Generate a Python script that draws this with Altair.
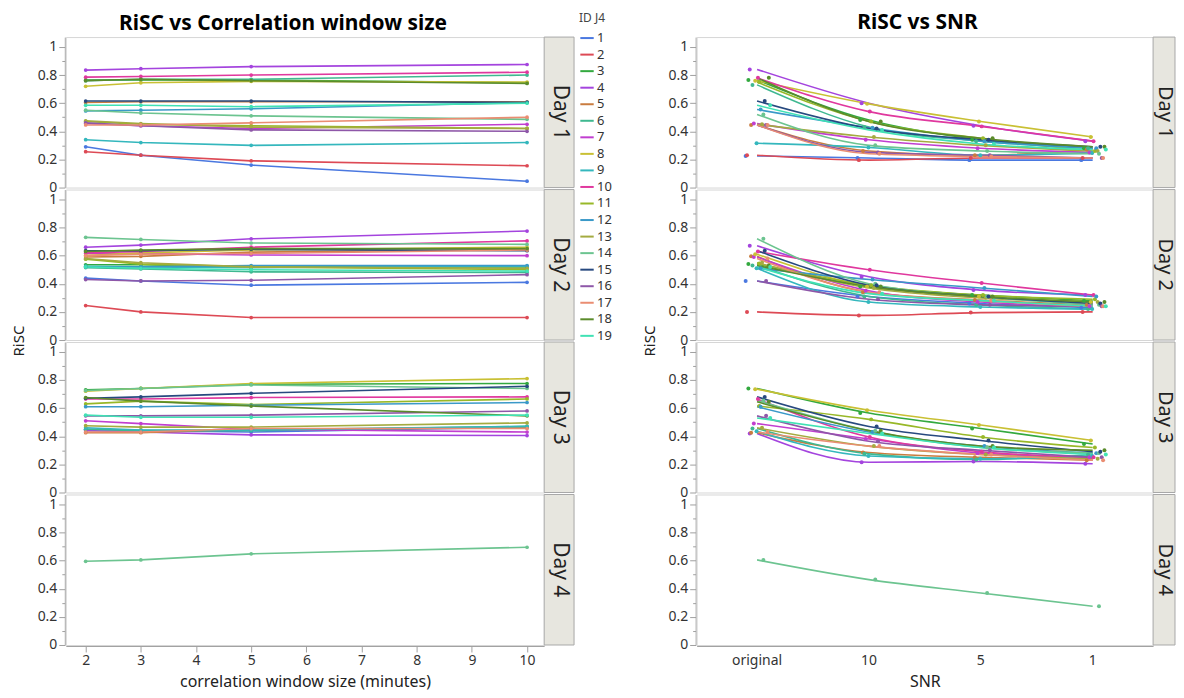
import altair as alt
import pandas as pd

# ---------------- data ----------------
ids = list(range(1, 20))
id_colors = ["#4a78e0", "#dd4a55", "#33a93f", "#a444de", "#c97c3f", "#3fb890",
             "#c13ed0", "#c9c034", "#34b7bd", "#e0389e", "#98b828", "#3a99c8",
             "#a4ab40", "#6cc490", "#27497f", "#8e57a8", "#ea8d72", "#5b8b2b",
             "#40e2b4"]
days = ["Day 1", "Day 2", "Day 3", "Day 4"]
window_sizes = [2, 3, 5, 10]
snr_levels = ["original", "10", "5", "1"]

window_day1 = {
    1: [0.29, 0.23, 0.16, 0.045], 2: [0.255, 0.23, 0.19, 0.155],
    3: [0.765, 0.765, 0.765, 0.745], 4: [0.835, 0.845, 0.86, 0.875],
    5: [0.605, 0.61, 0.61, 0.61], 6: [0.76, 0.77, 0.77, 0.80],
    7: [0.455, 0.44, 0.42, 0.45], 8: [0.72, 0.745, 0.755, 0.75],
    9: [0.34, 0.32, 0.30, 0.32], 10: [0.785, 0.79, 0.80, 0.82],
    11: [0.47, 0.45, 0.44, 0.42], 12: [0.545, 0.55, 0.56, 0.605],
    13: [0.475, 0.455, 0.43, 0.42], 14: [0.55, 0.53, 0.51, 0.485],
    15: [0.615, 0.615, 0.615, 0.605], 16: [0.46, 0.44, 0.41, 0.40],
    17: [0.445, 0.445, 0.46, 0.50], 18: [0.76, 0.77, 0.76, 0.74],
    19: [0.585, 0.585, 0.575, 0.60],
}
window_day2 = {
    1: [0.44, 0.42, 0.39, 0.41], 2: [0.245, 0.20, 0.16, 0.16],
    3: [0.535, 0.535, 0.52, 0.52], 4: [0.66, 0.675, 0.72, 0.775],
    5: [0.59, 0.595, 0.625, 0.645], 6: [0.515, 0.505, 0.485, 0.48],
    7: [0.615, 0.615, 0.605, 0.60], 8: [0.60, 0.62, 0.64, 0.66],
    9: [0.525, 0.52, 0.515, 0.525], 10: [0.62, 0.63, 0.66, 0.705],
    11: [0.575, 0.54, 0.52, 0.50], 12: [0.52, 0.52, 0.53, 0.53],
    13: [0.58, 0.55, 0.52, 0.51], 14: [0.73, 0.715, 0.69, 0.68],
    15: [0.635, 0.635, 0.645, 0.635], 16: [0.43, 0.42, 0.425, 0.465],
    17: [0.60, 0.61, 0.615, 0.64], 18: [0.63, 0.64, 0.65, 0.65],
    19: [0.52, 0.51, 0.50, 0.49],
}
window_day3 = {
    1: [0.45, 0.44, 0.43, 0.465], 3: [0.73, 0.74, 0.77, 0.775],
    4: [0.44, 0.43, 0.41, 0.405], 5: [0.425, 0.425, 0.45, 0.46],
    6: [0.45, 0.44, 0.44, 0.47], 7: [0.51, 0.49, 0.45, 0.43],
    8: [0.72, 0.74, 0.775, 0.81], 9: [0.46, 0.445, 0.445, 0.47],
    10: [0.665, 0.665, 0.675, 0.68], 11: [0.63, 0.65, 0.625, 0.665],
    12: [0.61, 0.61, 0.62, 0.64], 13: [0.475, 0.465, 0.465, 0.495],
    14: [0.725, 0.74, 0.765, 0.74], 15: [0.67, 0.68, 0.705, 0.755],
    16: [0.545, 0.545, 0.55, 0.58], 17: [0.43, 0.43, 0.455, 0.455],
    18: [0.675, 0.65, 0.615, 0.545], 19: [0.55, 0.535, 0.535, 0.55],
}
window_day4 = {
    14: [0.595, 0.605, 0.648, 0.695],
}

snr_day1 = {
    1: [0.225, 0.21, 0.195, 0.195], 2: [0.23, 0.195, 0.21, 0.21],
    3: [0.765, 0.48, 0.34, 0.28], 4: [0.84, 0.60, 0.44, 0.33],
    5: [0.445, 0.26, 0.23, 0.27], 6: [0.73, 0.43, 0.33, 0.28],
    7: [0.455, 0.34, 0.28, 0.25], 8: [0.76, 0.595, 0.47, 0.36],
    9: [0.315, 0.285, 0.23, 0.245], 10: [0.78, 0.54, 0.435, 0.33],
    11: [0.75, 0.47, 0.35, 0.26], 12: [0.555, 0.425, 0.33, 0.28],
    13: [0.45, 0.36, 0.30, 0.26], 14: [0.52, 0.30, 0.26, 0.24],
    15: [0.615, 0.42, 0.34, 0.29], 16: [0.445, 0.25, 0.23, 0.21],
    17: [0.445, 0.24, 0.22, 0.21], 18: [0.78, 0.47, 0.35, 0.29],
    19: [0.585, 0.41, 0.31, 0.27],
}
snr_day2 = {
    1: [0.42, 0.31, 0.26, 0.23], 2: [0.20, 0.175, 0.195, 0.20],
    3: [0.54, 0.38, 0.32, 0.28], 4: [0.67, 0.45, 0.355, 0.32],
    5: [0.595, 0.34, 0.285, 0.25], 6: [0.53, 0.31, 0.25, 0.22],
    7: [0.59, 0.35, 0.27, 0.24], 8: [0.61, 0.38, 0.31, 0.27],
    9: [0.51, 0.27, 0.235, 0.22], 10: [0.63, 0.50, 0.405, 0.32],
    11: [0.545, 0.39, 0.32, 0.29], 12: [0.51, 0.43, 0.37, 0.31],
    13: [0.55, 0.37, 0.30, 0.27], 14: [0.72, 0.40, 0.31, 0.25],
    15: [0.635, 0.39, 0.31, 0.26], 16: [0.42, 0.29, 0.25, 0.24],
    17: [0.58, 0.34, 0.28, 0.24], 18: [0.53, 0.38, 0.31, 0.27],
    19: [0.52, 0.33, 0.28, 0.24],
}
snr_day3 = {
    3: [0.74, 0.565, 0.455, 0.345], 4: [0.42, 0.215, 0.22, 0.205],
    5: [0.425, 0.285, 0.25, 0.23], 6: [0.455, 0.275, 0.235, 0.27],
    7: [0.49, 0.38, 0.28, 0.25], 8: [0.735, 0.585, 0.48, 0.37],
    9: [0.435, 0.26, 0.24, 0.26], 10: [0.665, 0.395, 0.29, 0.25],
    11: [0.615, 0.52, 0.395, 0.32], 12: [0.61, 0.43, 0.33, 0.28],
    13: [0.46, 0.33, 0.27, 0.24], 14: [0.655, 0.44, 0.32, 0.28],
    15: [0.68, 0.47, 0.37, 0.29], 16: [0.545, 0.365, 0.30, 0.25],
    17: [0.43, 0.33, 0.27, 0.23], 18: [0.645, 0.44, 0.33, 0.30],
    19: [0.53, 0.42, 0.32, 0.27],
}
snr_day4 = {
    14: [0.605, 0.465, 0.37, 0.275],
}


def to_frame(tables, xs, xname):
    rows = []
    for day, table in zip(days, tables):
        for i, vals in table.items():
            for x, v in zip(xs, vals):
                rows.append({"day": day, "id": i, xname: x, "risc": v})
    return pd.DataFrame(rows)


df_win = to_frame([window_day1, window_day2, window_day3, window_day4], window_sizes, "window")
df_snr = to_frame([snr_day1, snr_day2, snr_day3, snr_day4], snr_levels, "snr")

# ---------------- styling ----------------
FONT = "Noto Sans"
H = 151
W1 = 480
W2 = 458
S1 = 30
S2 = 22
STRIP_FILL = "#e7e6df"
STRIP_STROKE = "#a8a8a8"
AXIS_GRAY = "#a0a0a0"
LABEL_COLOR = "#333333"

color_scale = alt.Scale(domain=ids, range=id_colors)

major = "round(datum.value*10) % 2 == 0"
y_axis = alt.Axis(
    values=[round(i * 0.1, 1) for i in range(11)],
    labelExpr=f"{major} ? toString(round(datum.value*10)/10) : ''",
    tickSize={"condition": {"test": major, "value": 6}, "value": 3},
    title=None, grid=False, domainColor=AXIS_GRAY, tickColor=AXIS_GRAY,
    labelFontSize=14, labelColor=LABEL_COLOR, labelPadding=2,
)
y_enc = alt.Y("risc:Q", scale=alt.Scale(domain=[0, 1.07], nice=False), axis=y_axis)


def strip_layers(W, S, fs):
    strip = alt.Chart().transform_aggregate(
        n="count()", groupby=["day"]
    ).mark_rect(fill=STRIP_FILL, stroke=STRIP_STROKE, strokeWidth=1).encode(
        x=alt.value(W), x2=alt.value(W + S), y=alt.value(0), y2=alt.value(H)
    )
    label = alt.Chart().transform_aggregate(
        n="count()", groupby=["day"]
    ).mark_text(angle=90, fontSize=fs, color="#222222", align="center",
                baseline="middle", font=FONT).encode(
        x=alt.value(W + S / 2 + 1), y=alt.value(H / 2), text="day:N"
    )
    return strip, label


def row_facet():
    return alt.Row("day:N", sort=days, header=alt.Header(
        labels=False, title="RiSC", titleOrient="left", titleFontSize=15,
        titleFontWeight="normal", titleColor="#222222", titlePadding=0,
        titleFont=FONT))


# ---------------- left: window size ----------------
x_win = alt.X("window:Q", scale=alt.Scale(domain=[1.64, 10.31], nice=False, zero=False),
              axis=alt.Axis(values=list(range(2, 11)), title="correlation window size (minutes)",
                            tickSize=6, grid=False, domainColor=AXIS_GRAY, tickColor=AXIS_GRAY,
                            labelFontSize=14, labelColor=LABEL_COLOR, titleFontSize=16,
                            titleFontWeight="normal", titleColor="#222222", titlePadding=6))
color_left = alt.Color("id:O", scale=color_scale, legend=alt.Legend(
    title="ID J4", symbolType="stroke", symbolStrokeWidth=2, symbolSize=180,
    labelFontSize=13, titleFontSize=12, titleFontWeight="normal", titleColor="#444444",
    labelColor=LABEL_COLOR, rowPadding=1.6, labelOffset=2,
    orient="none", legendX=W1 + S1 + 5, legendY=-24))

line_l = alt.Chart().mark_line(strokeWidth=1.6).encode(x=x_win, y=y_enc, color=color_left)
pts_l = alt.Chart().mark_circle(size=14, opacity=1).encode(x=x_win, y=y_enc, color=color_left)
strip_l, lab_l = strip_layers(W1, S1, 21)

left = alt.layer(line_l, pts_l, strip_l, lab_l, data=df_win).properties(
    width=W1, height=H
).facet(row=row_facet(), spacing=0).properties(
    title=alt.TitleParams("RiSC vs Correlation window size", fontSize=21, fontWeight="bold",
                          anchor="middle", frame="bounds", font=FONT, offset=3, dx=-29, dy=24)
)

# ---------------- right: SNR ----------------
x_snr = alt.X("snr:N", sort=snr_levels,
              scale=alt.Scale(domain=snr_levels, paddingInner=0, paddingOuter=0.04),
              axis=alt.Axis(labelAngle=0, title="SNR", ticks=False, grid=False,
                            domainColor=AXIS_GRAY, labelFontSize=14, labelColor=LABEL_COLOR,
                            titleFontSize=16, titleFontWeight="normal", titleColor="#222222",
                            labelPadding=8, titlePadding=6))
color_right = alt.Color("id:O", scale=color_scale, legend=None)

line_r = alt.Chart().mark_line(strokeWidth=1.6, interpolate="monotone").encode(
    x=x_snr, y=y_enc, color=color_right)
pts_r = alt.Chart().mark_circle(size=16, opacity=1).encode(
    x=x_snr, y=y_enc, color=color_right,
    xOffset=alt.XOffset("id:O", scale=alt.Scale(range=[44, 70])))
strip_r, lab_r = strip_layers(W2, S2, 20)

right = alt.layer(line_r, pts_r, strip_r, lab_r, data=df_snr).properties(
    width=W2, height=H
).facet(row=row_facet(), spacing=0).properties(
    title=alt.TitleParams("RiSC vs SNR", fontSize=21, fontWeight="bold",
                          anchor="middle", frame="bounds", font=FONT, offset=3, dx=8)
)

chart = alt.hconcat(left, right, spacing=30).resolve_scale(
    color="independent"
).configure(font=FONT, padding={"left": 3, "top": 3, "right": 0, "bottom": 0}).configure_view(
    stroke="#d6d6d6"
).configure_axis(labelFont=FONT, titleFont=FONT)

chart.save("out.html", embed_options={"renderer": "svg", "actions": False})
